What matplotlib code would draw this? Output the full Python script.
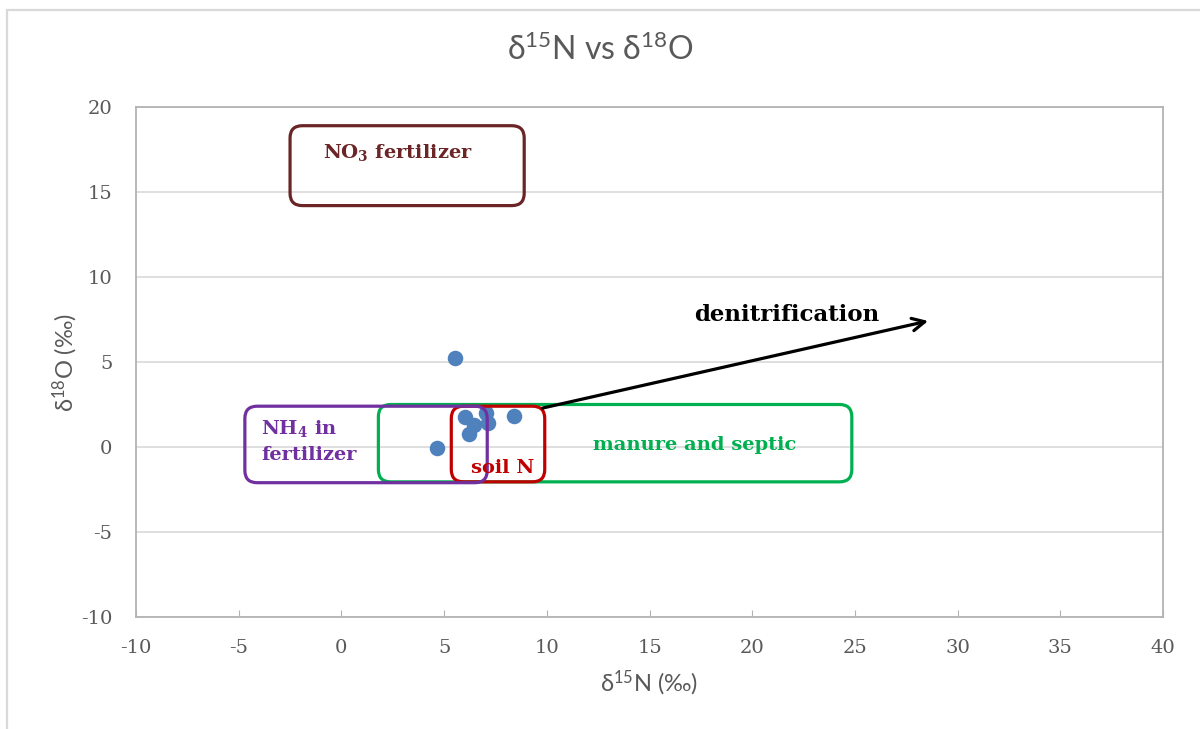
import matplotlib.pyplot as plt
from matplotlib.patches import FancyBboxPatch, Rectangle
import numpy as np

plt.rcParams['mathtext.default'] = 'regular'
plt.rcParams['axes.unicode_minus'] = False

# muestras: delta 15N y delta 18O del nitrato
d15n = [5.52, 4.63, 6.04, 6.45, 6.22, 7.03, 7.14, 8.39]
d18o = [5.24, -0.08, 1.78, 1.29, 0.76, 2.02, 1.39, 1.82]

# campos de fuentes: (x0, x1, y0, y1, color, texto, x_texto, y_texto, alineacion)
fuentes = [
    (-2.5, 8.9, 14.2, 18.9, '#6b2526', 'NO$_3$ fertilizer', 2.75, 17.35, 'center'),
    (1.8, 24.85, -2.05, 2.5, '#00b050', 'manure and septic', 17.2, 0.1, 'center'),
    (5.35, 9.9, -2.05, 2.4, '#c00000', 'soil N', 7.85, -1.25, 'center'),
    (-4.7, 7.1, -2.1, 2.4, '#7030a0', 'NH$_4$ in\nfertilizer', -3.9, 0.35, 'left'),
]

# flecha de desnitrificacion
flecha_ini = (9.65, 2.25)
flecha_fin = (28.7, 7.45)

fig = plt.figure(figsize=(12, 7.29), dpi=100)
ax = fig.add_axes([136 / 1200, 1 - 617 / 729, (1163 - 136) / 1200, (617 - 107) / 729])

ax.scatter(d15n, d18o, s=125, color='#4f81bd', zorder=3, linewidths=0)

ax.set_xlim(-10, 40)
ax.set_ylim(-10, 20)
ax.set_xticks(np.arange(-10, 41, 5))
ax.set_yticks(np.arange(-10, 21, 5))
ax.grid(axis='y', color='#d9d9d9', linewidth=1.2)
ax.set_axisbelow(True)
for s in ax.spines.values():
    s.set_color('#b3b3b3')
    s.set_linewidth(1.3)
ax.tick_params(axis='x', direction='in', length=5, color='#b3b3b3', pad=16,
               labelsize=14, labelcolor='#595959')
ax.tick_params(axis='y', length=0, pad=17, labelsize=14, labelcolor='#595959')
for lab in ax.get_xticklabels() + ax.get_yticklabels():
    lab.set_family('DejaVu Serif')

ax.set_xlabel('δ$^{15}$N (‰)', fontsize=17, color='#595959', family='Lato', labelpad=8)
ax.set_ylabel('δ$^{18}$O (‰)', fontsize=17, color='#595959', family='Lato', labelpad=1)
fig.text(0.5, 1 - 50 / 729, 'δ$^{15}$N vs δ$^{18}$O', ha='center', va='center',
         fontsize=23, color='#595959', family='Lato')

# cajas redondeadas, con aspecto corregido para que las esquinas sean circulares
aspecto = (1027 / 50) / (510 / 30)
for x0, x1, y0, y1, col, txt, tx, ty, al in fuentes:
    caja = FancyBboxPatch((x0, y0), x1 - x0, y1 - y0,
                          boxstyle='round,pad=0,rounding_size=0.6',
                          mutation_aspect=aspecto, fill=False,
                          edgecolor=col, linewidth=2.3, zorder=4)
    ax.add_patch(caja)
    ax.text(tx, ty, txt, color=col, ha=al, va='center', fontsize=14,
            fontweight='bold', family='DejaVu Serif', zorder=5, linespacing=1.45)

ax.annotate('', xy=flecha_fin, xytext=flecha_ini,
            arrowprops=dict(arrowstyle='->,head_length=0.9,head_width=0.45',
                            color='black', linewidth=2.3), zorder=5)
ax.text(21.7, 7.75, 'denitrification', ha='center', va='center', fontsize=16.5,
        fontweight='bold', family='DejaVu Serif', color='black')

# marco exterior del grafico
fig.add_artist(Rectangle((7 / 1200, -0.05), 1.1, (729 - 10) / 729 + 0.05,
                         transform=fig.transFigure, fill=False,
                         edgecolor='#d9d9d9', linewidth=1.6))

fig.savefig('out.png', dpi=100)
